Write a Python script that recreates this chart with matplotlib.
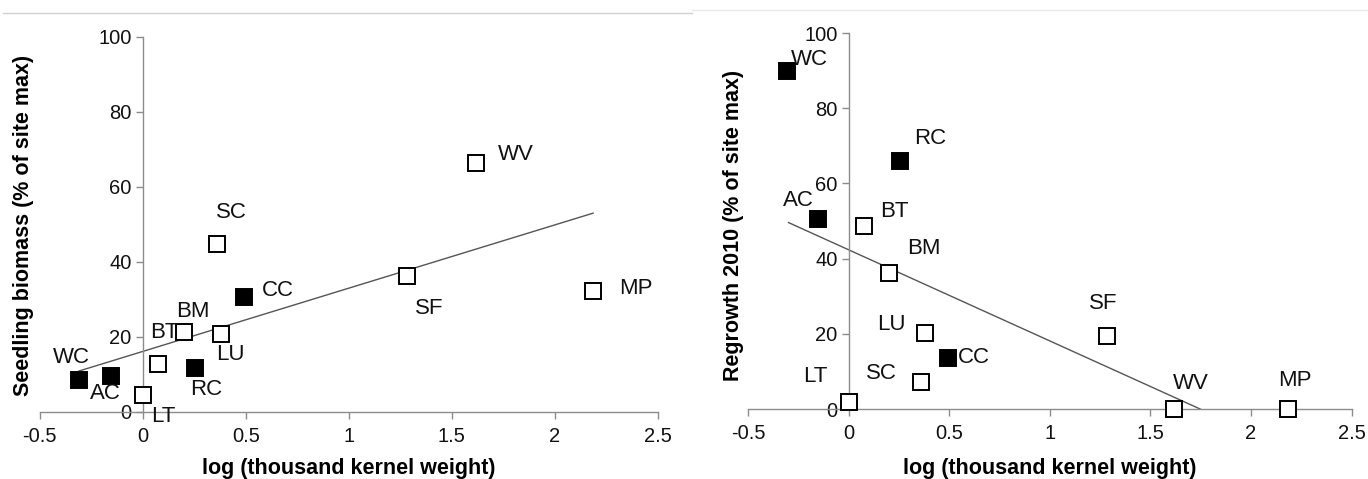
import numpy as np
import matplotlib.pyplot as plt
from matplotlib.lines import Line2D

plt.rcParams['font.family'] = ['Liberation Sans', 'DejaVu Sans']

# data
sites = ["WC", "AC", "LT", "BT", "BM", "RC", "SC", "LU", "CC", "SF", "WV", "MP"]
filled = [True, True, False, False, False, True, False, False, True, False, False, False]
log_tkw = [-0.31, -0.155, 0.0, 0.075, 0.2, 0.252, 0.36, 0.378, 0.492, 1.282, 1.615, 2.185]
seedling = [8.4, 9.6, 4.5, 12.7, 21.3, 11.6, 44.7, 20.7, 30.7, 36.3, 66.5, 32.3]
regrowth = [89.8, 50.5, 1.8, 48.8, 36.3, 66.0, 7.1, 20.1, 13.7, 19.3, 0.0, 0.0]

# fitted lines (start, end)
seed_fit_x = [-0.31, 2.185]
seed_fit_y = [10.9, 53.0]
regr_fit_x = [-0.30, 2.185]
regr_fit_y = [49.6, -10.6]

# label offsets in pixels (dx, dy; dy up)
seed_off = {"WC": (-7, 23), "AC": (-5, -18), "LT": (21, -21), "BT": (6, 32),
            "BM": (9, 21), "RC": (12, -21), "SC": (14, 32), "LU": (10, -20),
            "CC": (34, 6), "SF": (22, -33), "WV": (40, 8), "MP": (43, 2)}
regr_off = {"WC": (23, 12), "AC": (-19, 19), "LT": (-34, 26), "BT": (30, 14),
            "BM": (35, 24), "RC": (31, 22), "SC": (-40, 9), "LU": (-33, 9),
            "CC": (26, 0), "SF": (-3, 33), "WV": (17, 26), "MP": (7, 29)}

fig = plt.figure(figsize=(13.68, 4.79), dpi=100)
ax1 = fig.add_axes([0.029, 0.140, 0.452, 0.783])
ax2 = fig.add_axes([0.547, 0.146, 0.441, 0.785])

# light frame lines at the top
fig.add_artist(Line2D([0.002, 0.506], [0.972, 0.972], color="#d0d0d0", lw=1))
fig.add_artist(Line2D([0.506, 1.0], [0.979, 0.979], color="#e8e8e8", lw=1))


def panel(ax, yvals, fx, fy, offs, ylabel, xlab_y, ylab_x):
    ax.plot(fx, fy, color="#555555", lw=1.0, zorder=2)
    for s, f, x, y in zip(sites, filled, log_tkw, yvals):
        ax.plot(x, y, marker="s", ms=11.5, mew=1.4, mec="black",
                mfc="black" if f else "white", clip_on=False, zorder=3)
        dx, dy = offs[s]
        ax.annotate(s, (x, y), xytext=(dx, dy), textcoords="offset pixels",
                    ha="center", va="center", fontsize=16, color="#111111",
                    annotation_clip=False, zorder=4)
    ax.set_xlim(-0.5, 2.5)
    ax.set_ylim(0, 100)
    ax.set_xticks([-0.5, 0, 0.5, 1, 1.5, 2, 2.5])
    ax.set_xticklabels(["-0.5", "0", "0.5", "1", "1.5", "2", "2.5"])
    ax.set_yticks([0, 20, 40, 60, 80, 100])
    ax.spines["left"].set_position(("data", 0))
    ax.spines["top"].set_visible(False)
    ax.spines["right"].set_visible(False)
    for sp in ["left", "bottom"]:
        ax.spines[sp].set_color("#8c8c8c")
        ax.spines[sp].set_linewidth(1.0)
    ax.tick_params(axis="both", direction="out", length=5, width=1,
                   color="#8c8c8c", labelsize=14.5, labelcolor="#111111")
    ax.tick_params(axis="x", pad=6)
    ax.tick_params(axis="y", pad=3)
    ax.patch.set_alpha(0)
    fig.text(ylab_x, 0.53, ylabel, rotation=90, ha="center", va="center",
             fontsize=15.5, fontweight="bold")
    bb = ax.get_position()
    fig.text((bb.x0 + bb.x1) / 2, xlab_y, "log (thousand kernel weight)",
             ha="center", va="center", fontsize=15.5, fontweight="bold")


panel(ax1, seedling, seed_fit_x, seed_fit_y, seed_off,
      "Seedling biomass (% of site max)", 0.022, 0.017)
panel(ax2, regrowth, regr_fit_x, regr_fit_y, regr_off,
      "Regrowth 2010 (% of site max)", 0.021, 0.536)

plt.savefig("out.png", dpi=100)
